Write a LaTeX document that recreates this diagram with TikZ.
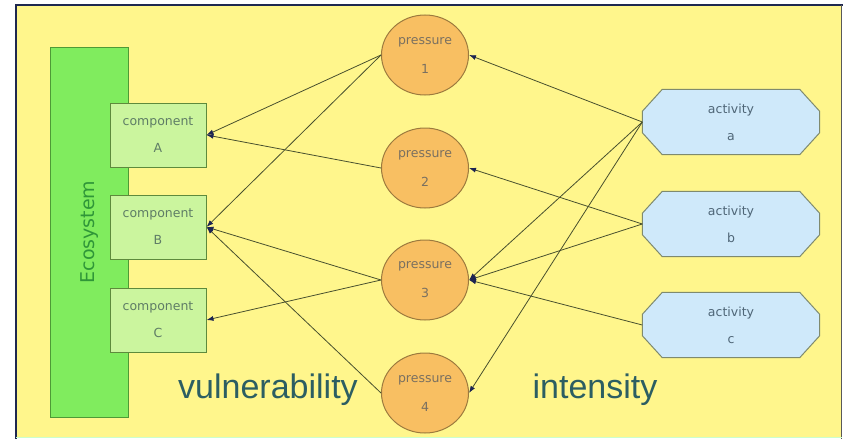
\documentclass[tikz,border=0pt]{standalone}
\usepackage{fontspec}
\setmainfont{DejaVu Sans}
\newfontfamily\bigfont{Liberation Sans}
\usetikzlibrary{shapes.geometric,arrows.meta}
\definecolor{bgyellow}{HTML}{FFF68C}
\definecolor{ecogreen}{HTML}{80EC5E}
\definecolor{ecoline}{HTML}{4E9A36}
\definecolor{ecotext}{HTML}{2F9638}
\definecolor{compfill}{HTML}{CBF59E}
\definecolor{compline}{HTML}{5E8A3C}
\definecolor{comptext}{HTML}{5F7D66}
\definecolor{presfill}{HTML}{F8BF62}
\definecolor{presline}{HTML}{9C7A3E}
\definecolor{prestext}{HTML}{7A7060}
\definecolor{actfill}{HTML}{CFE9FA}
\definecolor{actline}{HTML}{7F8A6E}
\definecolor{acttext}{HTML}{4F6677}
\definecolor{edgecol}{HTML}{48502E}
\definecolor{headcol}{HTML}{1C2452}
\definecolor{bigtext}{HTML}{2C5E62}
\definecolor{framecol}{HTML}{1E2850}
\tikzset{
  compbox/.style={draw=compline, fill=compfill, line width=1pt, minimum width=96pt, minimum height=64pt,
    inner sep=0pt, align=center, text=comptext, font=\fontsize{12.5}{27}\selectfont},
  presnode/.style={ellipse, draw=presline, fill=presfill, line width=1pt, minimum width=87pt, minimum height=80pt,
    inner sep=0pt, align=center, text=prestext, font=\fontsize{12.5}{29}\selectfont},
  actbase/.style={rectangle, minimum width=177pt, minimum height=65pt, inner sep=0pt},
  actshape/.style={draw=actline, fill=actfill, line width=1pt, line join=miter},
  acttextstyle/.style={align=center, inner sep=0pt, text=acttext, font=\fontsize{12.5}{27}\selectfont},
  conn/.style={draw=edgecol, line width=0.8pt, -{Latex[length=7pt,width=5pt,color=headcol]}},
  bigword/.style={text=bigtext, font=\bigfont\fontsize{34}{40}\selectfont, inner sep=0pt}
}
\newcommand{\octa}[1]{%
  \filldraw[actshape] ([xshift=20pt]#1.north west) -- ([xshift=-20pt]#1.north east)
    -- ([yshift=-22pt]#1.north east) -- ([yshift=22pt]#1.south east)
    -- ([xshift=-20pt]#1.south east) -- ([xshift=20pt]#1.south west)
    -- ([yshift=22pt]#1.south west) -- ([yshift=-22pt]#1.north west) -- cycle;}
\begin{document}
\begin{tikzpicture}[x=1pt,y=-1pt]
\useasboundingbox (0,0) rectangle (843,439);
\fill[white] (0,0) rectangle (843,439);
\fill[bgyellow] (16,5) rectangle (842,437);
\draw[framecol, line width=2pt] (16,439) -- (16,5) -- (843,5);
\draw[gray!70!black, line width=1.2pt] (841.5,5) -- (841.5,439);
\draw[green!20!white, line width=1.5pt] (16,437.5) -- (842,437.5);

% Ecosystem bar
\node[draw=ecoline, fill=ecogreen, line width=1pt, minimum width=78pt, minimum height=370pt, inner sep=0pt] (eco) at (89,232) {};
\node[rotate=90, text=ecotext, font=\fontsize{19}{20}\selectfont, inner sep=0pt] (ecolabel) at (90,232) {Ecosystem};

% components
\node[compbox] (A) at (158,135) {component\\A};
\node[compbox] (B) at (158,227) {component\\B};
\node[compbox] (C) at (158,320) {component\\C};

% pressures
\node[presnode] (p1) at (425,55) {pressure\\1};
\node[presnode] (p2) at (425,168) {pressure\\2};
\node[presnode] (p3) at (425,280) {pressure\\3};
\node[presnode] (p4) at (425,393) {pressure\\4};

% activities
\node[actbase] (a) at (731,122) {};
\node[actbase] (b) at (731,224) {};
\node[actbase] (c) at (731,325) {};
\octa{a}\octa{b}\octa{c}
\node[acttextstyle] (at) at (a) {activity\\a};
\node[acttextstyle] (bt) at (b) {activity\\b};
\node[acttextstyle] (ct) at (c) {activity\\c};

% labels
\node[bigword] (vul) at (268,390) {vulnerability};
\node[bigword] (int) at (595,390) {intensity};

% connectors: pressures -> components
\draw[conn] (p1.west) -- (A.east);
\draw[conn] (p1.west) -- (B.east);
\draw[conn] (p2.west) -- (A.east);
\draw[conn] (p3.west) -- (B.east);
\draw[conn] (p3.west) -- (C.east);
\draw[conn] (p4.west) -- (B.east);

% connectors: activities -> pressures
\draw[conn] (a.west) -- (p1.east);
\draw[conn] (a.west) -- (p3.east);
\draw[conn] (a.west) -- (p4.east);
\draw[conn] (b.west) -- (p2.east);
\draw[conn] (b.west) -- (p3.east);
\draw[conn] (c.west) -- (p3.east);
\end{tikzpicture}
\end{document}
